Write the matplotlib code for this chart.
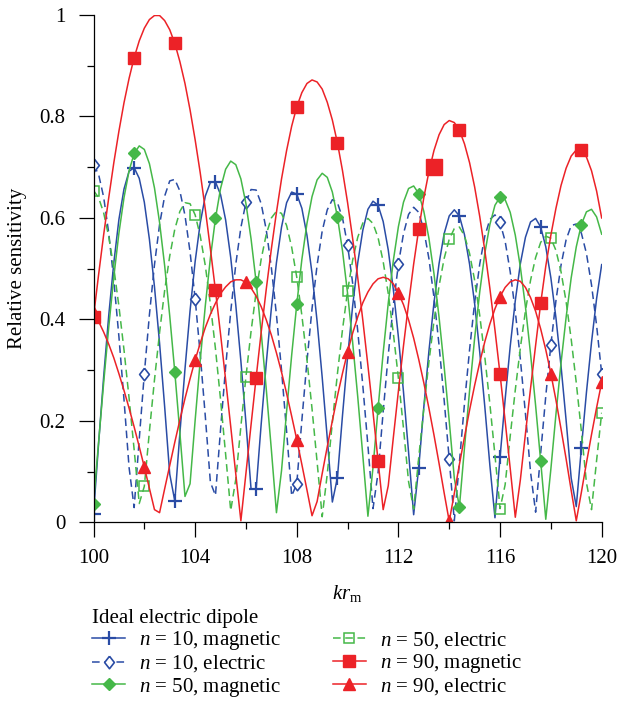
import numpy as np
import matplotlib
matplotlib.use("Agg")
import matplotlib.pyplot as plt
from matplotlib.ticker import MultipleLocator

plt.rcParams['font.family'] = ['Liberation Serif', 'DejaVu Serif']
plt.rcParams['mathtext.fontset'] = 'custom'
plt.rcParams['mathtext.rm'] = 'Liberation Serif'
plt.rcParams['mathtext.it'] = 'Liberation Serif:italic'

# ---------------- data ----------------
kr = np.linspace(100, 120, 101)   # sampling of kr_m, step 0.2

n10_magnetic = [
    0.016, 0.155, 0.287, 0.408, 0.512, 0.597, 0.657, 0.692, 0.699, 0.678,
    0.631, 0.558, 0.464, 0.353, 0.228, 0.095, 0.042, 0.176, 0.302, 0.417,
    0.514, 0.590, 0.643, 0.670, 0.671, 0.646, 0.596, 0.522, 0.428, 0.318,
    0.196, 0.066, 0.065, 0.194, 0.314, 0.422, 0.512, 0.582, 0.630, 0.651,
    0.647, 0.619, 0.566, 0.491, 0.396, 0.286, 0.166, 0.040, 0.088, 0.211,
    0.326, 0.427, 0.512, 0.576, 0.617, 0.633, 0.625, 0.593, 0.537, 0.459,
    0.365, 0.257, 0.138, 0.015, 0.108, 0.227, 0.337, 0.433, 0.510, 0.569,
    0.604, 0.616, 0.604, 0.567, 0.509, 0.431, 0.336, 0.228, 0.112, 0.009,
    0.128, 0.242, 0.347, 0.437, 0.510, 0.562, 0.592, 0.599, 0.582, 0.543,
    0.482, 0.403, 0.308, 0.201, 0.087, 0.031, 0.146, 0.256, 0.355, 0.441,
    0.508]

n10_electric = [
    0.705, 0.686, 0.641, 0.570, 0.477, 0.366, 0.242, 0.108, 0.029, 0.164,
    0.293, 0.409, 0.508, 0.587, 0.643, 0.673, 0.676, 0.653, 0.605, 0.533,
    0.441, 0.331, 0.209, 0.079, 0.053, 0.183, 0.306, 0.415, 0.509, 0.581,
    0.631, 0.656, 0.655, 0.628, 0.576, 0.502, 0.409, 0.300, 0.179, 0.052,
    0.076, 0.201, 0.317, 0.421, 0.507, 0.574, 0.616, 0.636, 0.630, 0.600,
    0.546, 0.471, 0.377, 0.269, 0.151, 0.027, 0.098, 0.218, 0.330, 0.428,
    0.509, 0.569, 0.607, 0.621, 0.611, 0.576, 0.520, 0.443, 0.349, 0.241,
    0.124, 0.003, 0.118, 0.234, 0.340, 0.433, 0.509, 0.564, 0.597, 0.606,
    0.591, 0.554, 0.494, 0.416, 0.321, 0.214, 0.099, 0.020, 0.137, 0.249,
    0.350, 0.437, 0.507, 0.557, 0.585, 0.588, 0.570, 0.530, 0.468, 0.388,
    0.293]

n50_magnetic = [
    0.037, 0.158, 0.275, 0.385, 0.484, 0.570, 0.640, 0.693, 0.727, 0.742,
    0.735, 0.707, 0.659, 0.591, 0.506, 0.407, 0.296, 0.176, 0.051, 0.076,
    0.201, 0.319, 0.427, 0.521, 0.599, 0.658, 0.696, 0.712, 0.705, 0.677,
    0.628, 0.559, 0.474, 0.374, 0.262, 0.143, 0.019, 0.102, 0.219, 0.330,
    0.430, 0.518, 0.589, 0.642, 0.675, 0.688, 0.680, 0.651, 0.602, 0.535,
    0.451, 0.354, 0.247, 0.131, 0.012, 0.108, 0.225, 0.334, 0.432, 0.516,
    0.583, 0.631, 0.658, 0.663, 0.648, 0.613, 0.560, 0.490, 0.404, 0.307,
    0.200, 0.087, 0.030, 0.147, 0.259, 0.363, 0.454, 0.530, 0.587, 0.625,
    0.641, 0.636, 0.611, 0.566, 0.503, 0.425, 0.332, 0.230, 0.120, 0.006,
    0.105, 0.213, 0.314, 0.404, 0.482, 0.543, 0.587, 0.612, 0.617, 0.602,
    0.568]

n50_electric = [
    0.654, 0.640, 0.610, 0.563, 0.501, 0.426, 0.340, 0.245, 0.143, 0.037,
    0.071, 0.179, 0.281, 0.374, 0.457, 0.525, 0.578, 0.613, 0.630, 0.628,
    0.606, 0.565, 0.506, 0.430, 0.342, 0.242, 0.134, 0.023, 0.085, 0.189,
    0.287, 0.376, 0.454, 0.519, 0.568, 0.600, 0.613, 0.609, 0.585, 0.542,
    0.483, 0.408, 0.321, 0.224, 0.119, 0.011, 0.095, 0.197, 0.293, 0.380,
    0.456, 0.517, 0.562, 0.590, 0.599, 0.589, 0.561, 0.514, 0.451, 0.373,
    0.284, 0.185, 0.080, 0.026, 0.128, 0.225, 0.316, 0.397, 0.466, 0.520,
    0.558, 0.579, 0.582, 0.565, 0.530, 0.477, 0.408, 0.326, 0.233, 0.132,
    0.027, 0.074, 0.170, 0.261, 0.344, 0.417, 0.477, 0.522, 0.552, 0.564,
    0.560, 0.536, 0.494, 0.435, 0.361, 0.275, 0.180, 0.078, 0.025, 0.122,
    0.216]

n90_magnetic = [
    0.405, 0.488, 0.567, 0.640, 0.709, 0.771, 0.827, 0.875, 0.916, 0.949,
    0.974, 0.991, 0.999, 0.999, 0.989, 0.971, 0.944, 0.908, 0.865, 0.813,
    0.754, 0.689, 0.617, 0.539, 0.457, 0.371, 0.281, 0.189, 0.095, 0.003,
    0.097, 0.192, 0.285, 0.375, 0.460, 0.539, 0.611, 0.677, 0.733, 0.781,
    0.819, 0.847, 0.865, 0.872, 0.868, 0.854, 0.828, 0.793, 0.748, 0.693,
    0.630, 0.559, 0.482, 0.398, 0.309, 0.217, 0.121, 0.025, 0.072, 0.167,
    0.259, 0.348, 0.431, 0.509, 0.578, 0.640, 0.691, 0.733, 0.764, 0.784,
    0.792, 0.788, 0.773, 0.746, 0.709, 0.661, 0.603, 0.536, 0.461, 0.379,
    0.292, 0.200, 0.106, 0.010, 0.084, 0.175, 0.264, 0.349, 0.432, 0.505,
    0.566, 0.619, 0.664, 0.698, 0.722, 0.734, 0.733, 0.720, 0.693, 0.653,
    0.600]

n90_electric = [
    0.413, 0.396, 0.375, 0.351, 0.324, 0.293, 0.260, 0.225, 0.188, 0.149,
    0.109, 0.067, 0.025, 0.019, 0.066, 0.112, 0.158, 0.202, 0.244, 0.283,
    0.320, 0.353, 0.384, 0.410, 0.432, 0.451, 0.464, 0.474, 0.478, 0.478,
    0.473, 0.462, 0.446, 0.425, 0.399, 0.369, 0.334, 0.296, 0.254, 0.209,
    0.163, 0.114, 0.064, 0.013, 0.041, 0.096, 0.149, 0.200, 0.249, 0.294,
    0.336, 0.373, 0.405, 0.433, 0.454, 0.470, 0.480, 0.483, 0.480, 0.470,
    0.452, 0.429, 0.399, 0.363, 0.321, 0.275, 0.225, 0.172, 0.116, 0.058,
    0.002, 0.057, 0.114, 0.168, 0.221, 0.270, 0.315, 0.356, 0.391, 0.421,
    0.445, 0.463, 0.474, 0.478, 0.475, 0.463, 0.443, 0.416, 0.381, 0.340,
    0.293, 0.241, 0.184, 0.125, 0.063, 0.003, 0.059, 0.117, 0.173, 0.226,
    0.276]

# enlarged square marker that appears on the n = 90 magnetic curve
highlight_x = [113.4]
highlight_y = [0.700]

labels = [r'$n$ = 10, magnetic', r'$n$ = 10, electric',
          r'$n$ = 50, magnetic', r'$n$ = 50, electric',
          r'$n$ = 90, magnetic', r'$n$ = 90, electric']

x_ticks = [100, 104, 108, 112, 116, 120]
x_ticklabels = ['100', '104', '108', '112', '116', '120']
y_ticks = [0, 0.2, 0.4, 0.6, 0.8, 1.0]
y_ticklabels = ['0', '0.2', '0.4', '0.6', '0.8', '1']

# ---------------- styling ----------------
blue = '#2a4ca5'
green = '#45b848'
red = '#ec2227'
FS = 15
LW = 1.1
dash = (0, (5, 3))
open_diamond = [(0, 1), (0.78, 0), (0, -1), (-0.78, 0), (0, 1)]

fig = plt.figure(figsize=(6.18, 7.01), dpi=100)
ax = fig.add_axes([0.1513, 0.2549, 0.8223, 0.7237])

ax.plot(kr, n10_magnetic, color=blue, lw=LW, marker='+', ms=10, mew=1.6,
        markevery=8, label=labels[0])
ax.plot(kr, n10_electric, color=blue, lw=LW, ls=dash, marker=open_diamond,
        ms=9, mfc='white', mew=1.2, markevery=10, label=labels[1])
ax.plot(kr, n50_magnetic, color=green, lw=LW, marker='D', ms=6.5,
        markevery=8, label=labels[2])
ax.plot(kr, n50_electric, color=green, lw=LW, ls=dash, marker='s', ms=7.5,
        mfc='none', mew=1.1, markevery=10, label=labels[3])
ax.plot(kr, n90_magnetic, color=red, lw=LW, marker='s', ms=8,
        markevery=8, label=labels[4])
ax.plot(kr, n90_electric, color=red, lw=LW, marker='^', ms=8.5,
        markevery=10, label=labels[5])
ax.plot(highlight_x, highlight_y, ls='none', marker='s', ms=12, color=red)

ax.set_xlim(100, 120)
ax.set_ylim(0, 1)
ax.set_xticks(x_ticks, labels=x_ticklabels)
ax.set_yticks(y_ticks, labels=y_ticklabels)
ax.xaxis.set_minor_locator(MultipleLocator(2))
ax.yaxis.set_minor_locator(MultipleLocator(0.1))
ax.tick_params(which='major', direction='out', length=11, width=0.9,
               labelsize=FS)
ax.tick_params(which='minor', direction='out', length=5, width=0.9)
ax.tick_params(axis='x', which='major', pad=8)
ax.tick_params(axis='y', which='major', pad=9)
for s in ['top', 'right']:
    ax.spines[s].set_visible(False)
for s in ['left', 'bottom']:
    ax.spines[s].set_linewidth(0.9)

ax.set_xlabel(r'$kr_{\mathrm{m}}$', fontsize=FS, labelpad=11)
ax.set_ylabel('Relative sensitivity', fontsize=FS, labelpad=9)

leg = fig.legend(loc='upper left', bbox_to_anchor=(92 / 618, 1 - 609 / 701),
                 ncol=2, frameon=False, fontsize=FS, title='Ideal electric dipole',
                 title_fontsize=FS, alignment='left', handlelength=1.6,
                 handletextpad=0.65, columnspacing=2.5, labelspacing=0.06,
                 borderpad=0, borderaxespad=0)

fig.savefig('out.png', dpi=100)
